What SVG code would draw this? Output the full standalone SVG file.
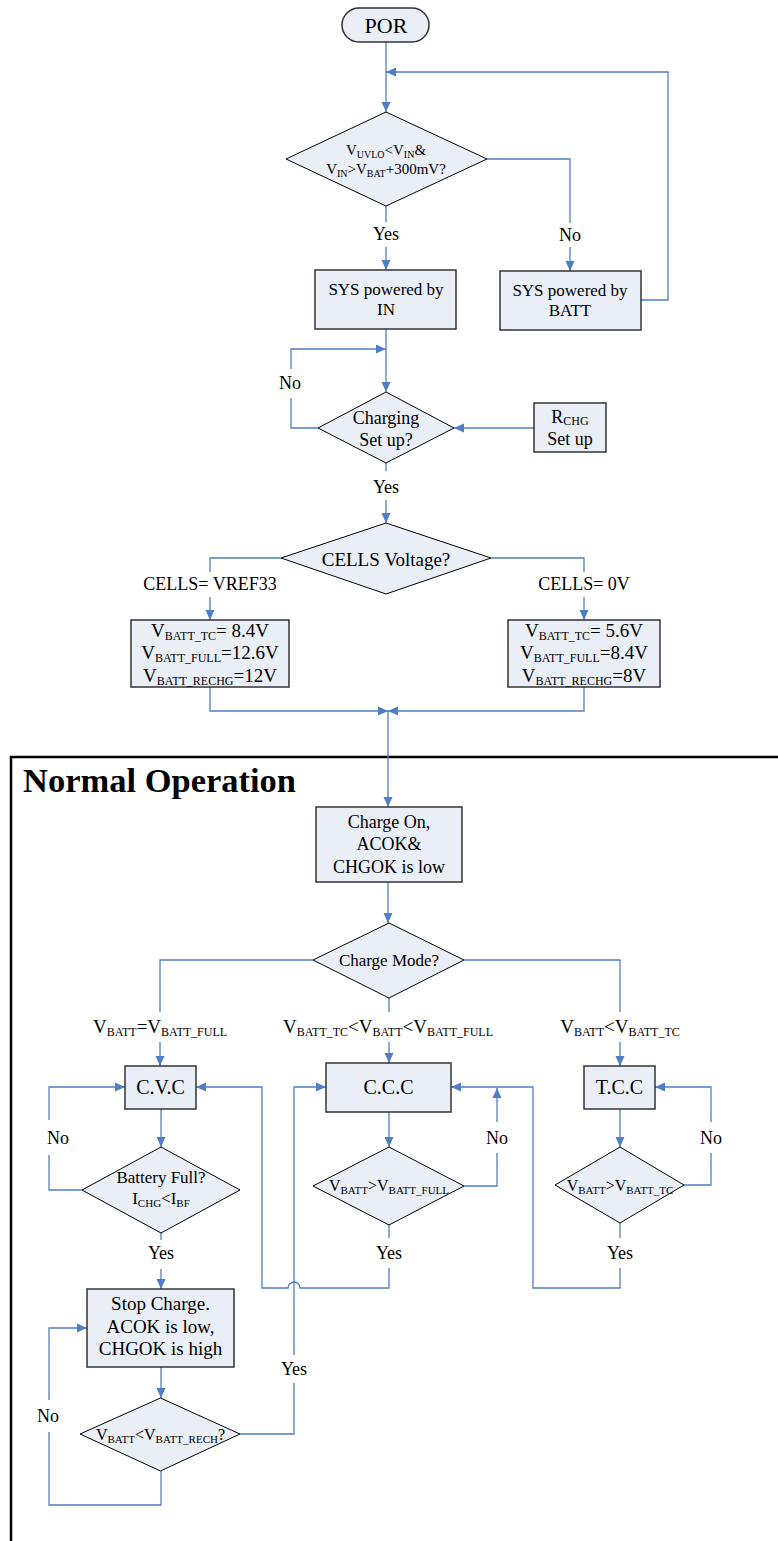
<svg xmlns="http://www.w3.org/2000/svg" width="778" height="1541" viewBox="0 0 778 1541">
<style>
text{font-family:"Liberation Serif","Times New Roman",serif;fill:#000;text-anchor:middle}
.box{fill:#E9EEF7;stroke:#333;stroke-width:1.5}
.dia{fill:#E9EEF7;stroke:#000;stroke-width:1}
.c{fill:none;stroke:#4F7EC2;stroke-width:1.3}
.a{marker-end:url(#ah)}
.lbl{font-size:18px}
</style>
<defs>
<marker id="ah" viewBox="0 0 10 10" refX="10" refY="5" markerWidth="10" markerHeight="10" markerUnits="userSpaceOnUse" orient="auto">
<path d="M0,0.5 L10,5 L0,9.5 z" fill="#4F7EC2"/>
</marker>
</defs>
<rect width="778" height="1541" fill="#fff"/>

<g id="frame">
<path d="M11,1541 V757 H778" fill="none" stroke="#000" stroke-width="2.5"/>
<text x="23" y="792" textLength="273" lengthAdjust="spacingAndGlyphs" style="text-anchor:start;font-size:33px;font-weight:bold">Normal Operation</text>
</g>

<g id="connectors">
<path class="c a" d="M386,42 V112"/>
<path class="c a" d="M641,300 H668 V72 H386"/>
<path class="c" d="M386,206 V222"/>
<path class="c a" d="M386,247 V270"/>
<path class="c" d="M487,159 H570 V223"/>
<path class="c a" d="M570,247 V271"/>
<path class="c a" d="M386,329 V392"/>
<path class="c" d="M318,428 H291 V398"/>
<path class="c a" d="M291,369 V349 H386"/>
<path class="c a" d="M534,428 H454"/>
<path class="c" d="M386,463 V471"/>
<path class="c a" d="M386,500 V523"/>
<path class="c" d="M281,558 H210 V572"/>
<path class="c a" d="M210,597 V620"/>
<path class="c" d="M491,558 H584 V572"/>
<path class="c a" d="M584,597 V620"/>
<path class="c a" d="M210,687 V711 H388"/>
<path class="c a" d="M584,687 V711 H388"/>
<path class="c a" d="M388,711 V807"/>
<path class="c a" d="M388,882 V923"/>
<path class="c" d="M313,960 H160 V1012"/>
<path class="c a" d="M160,1042 V1066"/>
<path class="c" d="M389,998 V1012"/>
<path class="c a" d="M389,1042 V1063"/>
<path class="c" d="M464,960 H620 V1012"/>
<path class="c a" d="M620,1042 V1066"/>
<path class="c a" d="M161,1109 V1147"/>
<path class="c" d="M82,1190 H49 V1155"/>
<path class="c a" d="M49,1120 V1087 H125"/>
<path class="c" d="M161,1233 V1240"/>
<path class="c a" d="M161,1269 V1289"/>
<path class="c a" d="M161,1367 V1398"/>
<path class="c" d="M161,1471 V1505 H49 V1432"/>
<path class="c a" d="M49,1400 V1328 H87"/>
<path class="c" d="M240,1434 H294 V1383"/>
<path class="c a" d="M294,1355 V1087 H326"/>
<path class="c a" d="M389,1112 V1147"/>
<path class="c" d="M464,1186 H497 V1153"/>
<path class="c a" d="M497,1122 V1088"/>
<path class="c" d="M389,1225 V1238"/>
<path class="c a" d="M389,1268 V1288 H300 A6,6 0 0 0 288,1288 H262 V1087 H196"/>
<path class="c a" d="M620,1109 V1147"/>
<path class="c" d="M684,1185 H711 V1153"/>
<path class="c a" d="M711,1122 V1087 H655"/>
<path class="c" d="M620,1223 V1238"/>
<path class="c a" d="M620,1268 V1288 H533 V1087 H451"/>
</g>

<g id="labels">
<text class="lbl" x="386" y="240">Yes</text>
<text class="lbl" x="570" y="241">No</text>
<text class="lbl" x="290" y="389">No</text>
<text class="lbl" x="386" y="493">Yes</text>
<text class="lbl" x="210" y="590">CELLS= VREF33</text>
<text class="lbl" x="584" y="590">CELLS= 0V</text>
<text x="160" y="1033" font-size="19">V<tspan font-size="12" dy="3">BATT</tspan><tspan dy="-3">=V</tspan><tspan font-size="12" dy="3">BATT_FULL</tspan></text>
<text x="388" y="1033" font-size="19">V<tspan font-size="12" dy="3">BATT_TC</tspan><tspan dy="-3">&lt;V</tspan><tspan font-size="12" dy="3">BATT</tspan><tspan dy="-3">&lt;V</tspan><tspan font-size="12" dy="3">BATT_FULL</tspan></text>
<text x="620" y="1033" font-size="19">V<tspan font-size="12" dy="3">BATT</tspan><tspan dy="-3">&lt;V</tspan><tspan font-size="12" dy="3">BATT_TC</tspan></text>
<text class="lbl" x="58" y="1144">No</text>
<text class="lbl" x="161" y="1259">Yes</text>
<text class="lbl" x="497" y="1144">No</text>
<text class="lbl" x="389" y="1259">Yes</text>
<text class="lbl" x="711" y="1144">No</text>
<text class="lbl" x="620" y="1259">Yes</text>
<text class="lbl" x="294" y="1375">Yes</text>
<text class="lbl" x="48" y="1422">No</text>
</g>

<g id="por">
<rect x="342" y="8" width="87" height="34" rx="17" class="box"/>
<text x="386" y="33" font-size="22">POR</text>
</g>

<g id="d-vin">
<polygon class="dia" points="286,159 386,112 487,159 386,206"/>
<text x="386" y="155" font-size="15">V<tspan font-size="10" dy="3">UVLO</tspan><tspan dy="-3">&lt;V</tspan><tspan font-size="10" dy="3">IN</tspan><tspan dy="-3">&amp;</tspan></text>
<text x="386" y="174" font-size="15">V<tspan font-size="10" dy="3">IN</tspan><tspan dy="-3">&gt;V</tspan><tspan font-size="10" dy="3">BAT</tspan><tspan dy="-3">+300mV?</tspan></text>
</g>

<g id="sys-in">
<rect x="315" y="270" width="141" height="59" class="box"/>
<text x="386" y="295" font-size="17">SYS powered by</text>
<text x="386" y="315" font-size="17">IN</text>
</g>

<g id="sys-batt">
<rect x="500" y="271" width="141" height="59" class="box"/>
<text x="570" y="296" font-size="17">SYS powered by</text>
<text x="570" y="316" font-size="17">BATT</text>
</g>

<g id="d-charging">
<polygon class="dia" points="318,428 386,392 454,428 386,463"/>
<text x="386" y="424" font-size="18">Charging</text>
<text x="386" y="446" font-size="18">Set up?</text>
</g>

<g id="rchg">
<rect x="534" y="403" width="72" height="49" class="box"/>
<text x="570" y="423" font-size="18">R<tspan font-size="12" dy="2">CHG</tspan></text>
<text x="570" y="445" font-size="18">Set up</text>
</g>

<g id="d-cells">
<polygon class="dia" points="281,558 386,523 491,558 386,594"/>
<text x="386" y="566" font-size="19">CELLS Voltage?</text>
</g>

<g id="cells-vref">
<rect x="131" y="620" width="158" height="67" class="box"/>
<text x="210" y="637" font-size="19">V<tspan font-size="12" dy="3">BATT_TC</tspan><tspan dy="-3">= 8.4V</tspan></text>
<text x="210" y="659" font-size="19">V<tspan font-size="12" dy="3">BATT_FULL</tspan><tspan dy="-3">=12.6V</tspan></text>
<text x="210" y="682" font-size="19">V<tspan font-size="12" dy="3">BATT_RECHG</tspan><tspan dy="-3">=12V</tspan></text>
</g>

<g id="cells-0v">
<rect x="508" y="620" width="152" height="67" class="box"/>
<text x="584" y="637" font-size="19">V<tspan font-size="12" dy="3">BATT_TC</tspan><tspan dy="-3">= 5.6V</tspan></text>
<text x="584" y="659" font-size="19">V<tspan font-size="12" dy="3">BATT_FULL</tspan><tspan dy="-3">=8.4V</tspan></text>
<text x="584" y="682" font-size="19">V<tspan font-size="12" dy="3">BATT_RECHG</tspan><tspan dy="-3">=8V</tspan></text>
</g>

<g id="charge-on">
<rect x="316" y="807" width="146" height="75" class="box"/>
<text x="389" y="828" font-size="18">Charge On,</text>
<text x="389" y="850" font-size="18">ACOK&amp;</text>
<text x="389" y="873" font-size="18">CHGOK is low</text>
</g>

<g id="d-mode">
<polygon class="dia" points="313,960 389,923 464,960 389,998"/>
<text x="389" y="966" font-size="17">Charge Mode?</text>
</g>

<g id="cvc">
<rect x="125" y="1066" width="71" height="43" class="box"/>
<text x="160.5" y="1094" font-size="20">C.V.C</text>
</g>

<g id="d-full">
<polygon class="dia" points="82,1190 161,1147 240,1190 161,1233"/>
<text x="161" y="1183" font-size="17">Battery Full?</text>
<text x="161" y="1204" font-size="17">I<tspan font-size="11" dy="3">CHG</tspan><tspan dy="-3">&lt;I</tspan><tspan font-size="11" dy="3">BF</tspan></text>
</g>

<g id="stop">
<rect x="87" y="1289" width="147" height="78" class="box"/>
<text x="160.5" y="1310" font-size="19">Stop Charge.</text>
<text x="160.5" y="1333" font-size="19">ACOK is low,</text>
<text x="160.5" y="1355" font-size="19">CHGOK is high</text>
</g>

<g id="d-rech">
<polygon class="dia" points="80,1434 160.5,1398 240,1434 160.5,1471"/>
<text x="160.5" y="1440" font-size="16">V<tspan font-size="11" dy="3">BATT</tspan><tspan dy="-3">&lt;V</tspan><tspan font-size="11" dy="3">BATT_RECH</tspan><tspan dy="-3">?</tspan></text>
</g>

<g id="ccc">
<rect x="326" y="1063" width="125" height="49" class="box"/>
<text x="388.5" y="1094" font-size="20">C.C.C</text>
</g>

<g id="d-ccc">
<polygon class="dia" points="313,1186 389,1147 464,1186 389,1225"/>
<text x="389" y="1191" font-size="16">V<tspan font-size="11" dy="3">BATT</tspan><tspan dy="-3">&gt;V</tspan><tspan font-size="11" dy="3">BATT_FULL</tspan></text>
</g>

<g id="tcc">
<rect x="584" y="1066" width="71" height="43" class="box"/>
<text x="619.5" y="1094" font-size="20">T.C.C</text>
</g>

<g id="d-tcc">
<polygon class="dia" points="555,1185 620,1147 684,1185 620,1223"/>
<text x="620" y="1191" font-size="16">V<tspan font-size="11" dy="3">BATT</tspan><tspan dy="-3">&gt;V</tspan><tspan font-size="11" dy="3">BATT_TC</tspan></text>
</g>
</svg>
